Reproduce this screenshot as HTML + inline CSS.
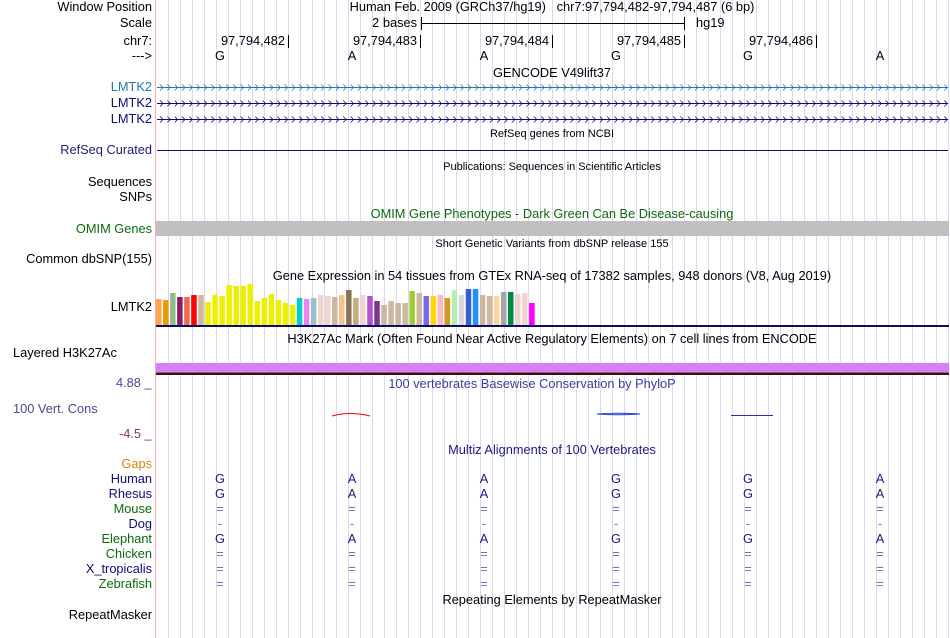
<!DOCTYPE html>
<html><head><meta charset="utf-8"><style>
body{margin:0;background:#fff;}
#root{position:relative;width:950px;height:638px;overflow:hidden;font-family:"Liberation Sans",sans-serif;font-size:12.8px;color:#000;}
.t{position:absolute;white-space:nowrap;line-height:14px;}
.r{text-align:right;width:152px;left:0;}
.c{transform:translateX(-50%);}
.s{font-size:11px;}
svg{position:absolute;left:0;top:0;}
</style></head><body>
<div id="root">
<svg id="grid" width="950" height="638"></svg>

<div class="t r" style="top:0">Window Position</div>
<div class="t c" style="top:0;left:552px">Human Feb. 2009 (GRCh37/hg19)&nbsp;&nbsp;&nbsp;chr7:97,794,482-97,794,487 (6 bp)</div>
<div class="t r" style="top:16px">Scale</div>
<div class="t" style="top:16px;right:533px">2 bases</div>
<div class="t" style="top:16px;left:696px">hg19</div>
<div class="t r" style="top:34px">chr7:</div>
<div class="t" style="top:34px;right:665px">97,794,482</div>
<div class="t" style="top:34px;right:533px">97,794,483</div>
<div class="t" style="top:34px;right:401px">97,794,484</div>
<div class="t" style="top:34px;right:269px">97,794,485</div>
<div class="t" style="top:34px;right:137px">97,794,486</div>
<div class="t r" style="top:49px">---&gt;</div>
<div id="bases"></div>
<div class="t c" style="top:66px;left:552px">GENCODE V49lift37</div>
<div class="t r" style="top:80px;color:#1f78b4">LMTK2</div>
<div class="t r" style="top:96px;color:#0c0c78">LMTK2</div>
<div class="t r" style="top:112px;color:#0c0c78">LMTK2</div>
<div class="t c s" style="top:127px;left:552px">RefSeq genes from NCBI</div>
<div class="t r" style="top:143px;color:#20207a">RefSeq Curated</div>
<div class="t c s" style="top:160px;left:552px">Publications: Sequences in Scientific Articles</div>
<div class="t r" style="top:175px">Sequences</div>
<div class="t r" style="top:190px">SNPs</div>
<div class="t c" style="top:207px;left:552px;color:#0b6a0b">OMIM Gene Phenotypes - Dark Green Can Be Disease-causing</div>
<div class="t r" style="top:222px;color:#0b6a0b">OMIM Genes</div>
<div class="t c s" style="top:237px;left:552px">Short Genetic Variants from dbSNP release 155</div>
<div class="t r" style="top:252px">Common dbSNP(155)</div>
<div class="t c" style="top:269px;left:552px">Gene Expression in 54 tissues from GTEx RNA-seq of 17382 samples, 948 donors (V8, Aug 2019)</div>
<div class="t r" style="top:300px">LMTK2</div>
<div class="t c" style="top:332px;left:552px">H3K27Ac Mark (Often Found Near Active Regulatory Elements) on 7 cell lines from ENCODE</div>
<div class="t" style="top:346px;left:13px">Layered H3K27Ac</div>
<div class="t" style="top:376px;left:116px;color:#4848a0">4.88 _</div>
<div class="t c" style="top:377px;left:532px;color:#3c3ca0">100 vertebrates Basewise Conservation by PhyloP</div>
<div class="t" style="top:402px;left:13px;color:#4848a0">100 Vert. Cons</div>
<div class="t" style="top:427px;left:119px;color:#8b3a3a">-4.5 _</div>
<div class="t c" style="top:443px;left:552px;color:#1a1a80">Multiz Alignments of 100 Vertebrates</div>
<div class="t r" style="top:457px;color:#d08a00">Gaps</div>
<div id="species"></div>
<div class="t c" style="top:593px;left:552px">Repeating Elements by RepeatMasker</div>
<div class="t r" style="top:608px">RepeatMasker</div>
</div>
<script>
const gtexHeights=[26,25,32,28,28,30,30,23,30,29,40,39,39,41,24,27,31,25,22,20,27,26,27,30,29,28,30,35,27,30,29,24,20,24,22,22,34,32,29,29,30,27,35,30,36,36,30,29,29,33,33,31,32,22];
const gtexColors=["#FFA54F","#EE9A00","#8FBC8F","#8B1C62","#EE6A50","#FF0000","#CDB79E","#EEEE00","#EEEE00","#EEEE00","#EEEE00","#EEEE00","#EEEE00","#EEEE00","#EEEE00","#EEEE00","#EEEE00","#EEEE00","#EEEE00","#EEEE00","#00CED1","#EE82EE","#9AC0CD","#EED5D2","#EED5D2","#CDB79E","#F4C28A","#8B7355","#CDAA7D","#EED5D2","#B452CD","#7A378B","#CDB79E","#CDB79E","#CDB79E","#CDB79E","#9ACD32","#CDB79E","#7B68EE","#FFD700","#FFB6C1","#CD9B1D","#B4EEB4","#D9D9D9","#3A5FCD","#1E90FF","#CDB79E","#CDB79E","#FFD39B","#A6A6A6","#008B45","#EED5D2","#EED5D2","#FF00FF"];
const baseLetters=["G","A","A","G","G","A"];
const species=["Human","Rhesus","Mouse","Dog","Elephant","Chicken","X_tropicalis","Zebrafish"];
const speciesColors=["#0c0c78","#0c0c78","#0b6a0b","#0c0c78","#0b6a0b","#0b6a0b","#0c0c78","#0b6a0b"];
const speciesRows=[["G","A","A","G","G","A"],["G","A","A","G","G","A"],["=","=","=","=","=","="],["-","-","-","-","-","-"],["G","A","A","G","G","A"],["=","=","=","=","=","="],["=","=","=","=","=","="],["=","=","=","=","=","="]];
const NS="http://www.w3.org/2000/svg";
const svg=document.getElementById('grid');
function el(tag,attrs){const e=document.createElementNS(NS,tag);for(const k in attrs)e.setAttribute(k,attrs[k]);svg.appendChild(e);return e;}
const baseX=i=>220+132*i;
for(let x=168;x<950;x+=12){const l=el('line',{x1:x+.5,y1:0,x2:x+.5,y2:638,stroke:'#d8d8f4','stroke-width':1});}
const sep=el('line',{x1:155.5,y1:0,x2:155.5,y2:638,stroke:'#f4b0b0'});

el('path',{d:'M421.5 17V30M421.5 23.5H684.5M684.5 17V30',stroke:'#000',fill:'none'});
[288,420,552,684,816].forEach(x=>el('line',{x1:x+.5,y1:35,x2:x+.5,y2:48,stroke:'#000'}));
[[87,'#1f78b4'],[103,'#0c0c78'],[119,'#0c0c78']].forEach(([y,c])=>{
 const g=el('line',{x1:157,y1:y+.5,x2:948,y2:y+.5,stroke:c});
 
 let d='';for(let x=160;x<946;x+=7.33){d+=`M${x} ${y-2.5}L${x+3} ${y+.5}L${x} ${y+3.5}`;}
 el('path',{d,stroke:c,fill:'none','stroke-width':0.8});
});
const rs=el('line',{x1:157,y1:150.5,x2:948,y2:150.5,stroke:'#0c0c78'});

const om=el('rect',{x:156,y:221,width:793,height:15,fill:'#c0c0c0'});

const base=325,step=7.04,x0=156;
gtexHeights.forEach((h,i)=>{const r=el('rect',{x:x0+i*step,y:base-h,width:5.5,height:h,fill:gtexColors[i]});
 });
el('rect',{x:156,y:325,width:793,height:2,fill:'#0c0c60'});
const hk=el('rect',{x:156,y:363,width:793,height:10,fill:'#d580f8'});

el('rect',{x:156,y:372,width:793,height:1,fill:'#c05050'});
el('rect',{x:156,y:373,width:793,height:2,fill:'#301030'});
el('path',{d:'M332 416Q350 411 370 416',stroke:'#ff0000',fill:'none'});
el('path',{d:'M597 414Q618 412.5 640 414M597 414Q618 415.5 640 414',stroke:'#2040d0',fill:'none'});
el('line',{x1:731,y1:415.5,x2:773,y2:415.5,stroke:'#3030a0'});
const bd=document.getElementById('bases');
baseLetters.forEach((b,i)=>{const d=document.createElement('div');d.className='t c';d.style.top='49px';d.style.left=baseX(i)+'px';d.textContent=b;
 bd.appendChild(d);});
const sp=document.getElementById('species');
species.forEach((s,j)=>{const y=472+15*j;
 const d=document.createElement('div');d.className='t r';d.style.top=y+'px';d.style.color=speciesColors[j];d.textContent=s;
 sp.appendChild(d);
 speciesRows[j].forEach((b,i)=>{const e=document.createElement('div');e.className='t c';e.style.top=y+'px';e.style.left=baseX(i)+'px';
  e.style.color=(b==='='||b==='-')?'#7070b0':'#1a1a80';e.textContent=b;
  sp.appendChild(e);});
});
</script>
</body></html>
